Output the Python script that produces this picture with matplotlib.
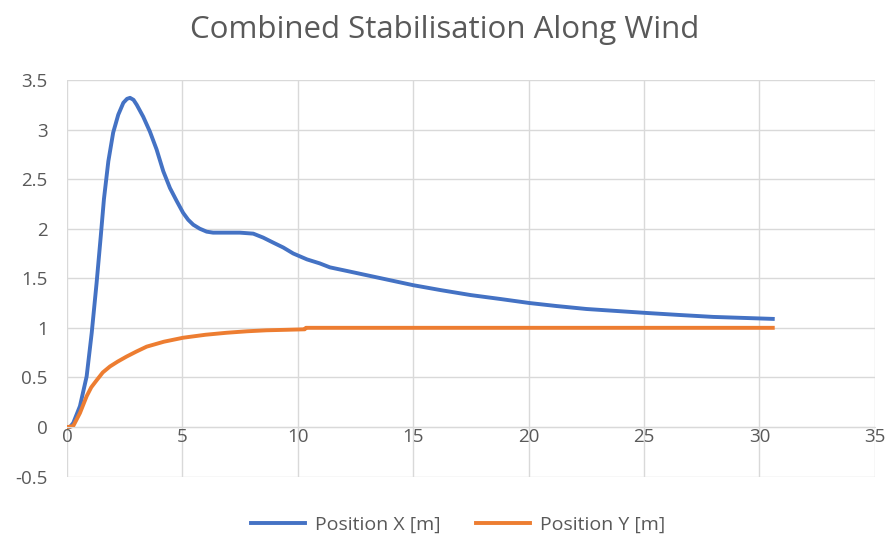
import matplotlib
matplotlib.use("Agg")
import matplotlib.pyplot as plt

# values
x_pos_t = [0.0, 0.13, 0.27, 0.56, 0.85, 1.07, 1.28, 1.46, 1.60, 1.79, 2.0, 2.22,
           2.44, 2.60, 2.73, 2.88, 3.02, 3.30, 3.59, 3.88, 4.17, 4.46, 4.75, 5.03,
           5.25, 5.47, 5.75, 6.05, 6.33, 6.9, 7.49, 8.07, 8.5, 8.93, 9.37, 9.80,
           10.4, 10.95, 11.39, 12.2, 13.0, 14.0, 15.0, 16.2, 17.5, 18.8, 20.04,
           21.2, 22.5, 23.8, 25.1, 26.5, 28.0, 29.3, 30.58]
x_pos = [0.0, 0.0, 0.04, 0.21, 0.51, 0.95, 1.45, 1.92, 2.30, 2.68, 2.97, 3.15,
         3.27, 3.31, 3.32, 3.30, 3.25, 3.13, 2.98, 2.80, 2.58, 2.41, 2.28, 2.16,
         2.09, 2.04, 2.00, 1.97, 1.96, 1.96, 1.96, 1.95, 1.91, 1.86, 1.81, 1.75,
         1.69, 1.65, 1.61, 1.57, 1.53, 1.48, 1.43, 1.38, 1.33, 1.29, 1.25,
         1.22, 1.19, 1.17, 1.15, 1.13, 1.11, 1.10, 1.09]

y_pos_t = [0.0, 0.06, 0.27, 0.56, 0.85, 1.05, 1.28, 1.55, 1.86, 2.2, 2.58, 3.0,
           3.45, 4.2, 5.03, 6.0, 6.91, 7.8, 8.64, 9.5, 10.3, 10.35, 15.0, 20.0,
           25.0, 30.58]
y_pos = [0.0, 0.0, 0.01, 0.14, 0.31, 0.40, 0.47, 0.55, 0.61, 0.66, 0.71, 0.76,
         0.81, 0.86, 0.90, 0.93, 0.95, 0.965, 0.975, 0.98, 0.985, 1.0, 1.0, 1.0,
         1.0, 1.0]

x_ticks = [0, 5, 10, 15, 20, 25, 30, 35]
y_ticks = [-0.5, 0, 0.5, 1, 1.5, 2, 2.5, 3, 3.5]

plt.rcParams['font.family'] = ['Open Sans', 'DejaVu Sans']
text_col = '#595959'
grid_col = '#d9d9d9'

fig = plt.figure(figsize=(8.89, 5.38), dpi=100)
ax = fig.add_axes([0.0754, 0.1143, 0.9086, 0.737])

ax.plot(x_pos_t, x_pos, color='#4472C4', lw=2.8, label='Position X [m]',
        solid_joinstyle='round')
ax.plot(y_pos_t, y_pos, color='#ED7D31', lw=2.8, label='Position Y [m]',
        solid_joinstyle='round')

ax.set_xlim(0, 35)
ax.set_ylim(-0.5, 3.5)
ax.set_xticks(x_ticks)
ax.set_yticks(y_ticks)
ax.set_yticklabels([f'{v:g}' for v in y_ticks])
ax.grid(True, color=grid_col, lw=1)
ax.set_axisbelow(True)

for s in ['top', 'right', 'left']:
    ax.spines[s].set_visible(False)
ax.spines['bottom'].set_position(('data', 0))
ax.spines['bottom'].set_color(grid_col)
ax.tick_params(axis='both', length=0, labelsize=13.5, colors=text_col)
ax.tick_params(axis='x', pad=1)
ax.tick_params(axis='y', pad=14)

fig.suptitle('Combined Stabilisation Along Wind', x=0.5, y=0.972,
             fontsize=22.5, color=text_col)

fig.legend(loc='center', bbox_to_anchor=(0.515, 0.024), ncol=2, frameon=False,
           fontsize=14, labelcolor=text_col, handlelength=2.8, columnspacing=1.8,
           handletextpad=0.5)

fig.savefig('out.png', dpi=100)
